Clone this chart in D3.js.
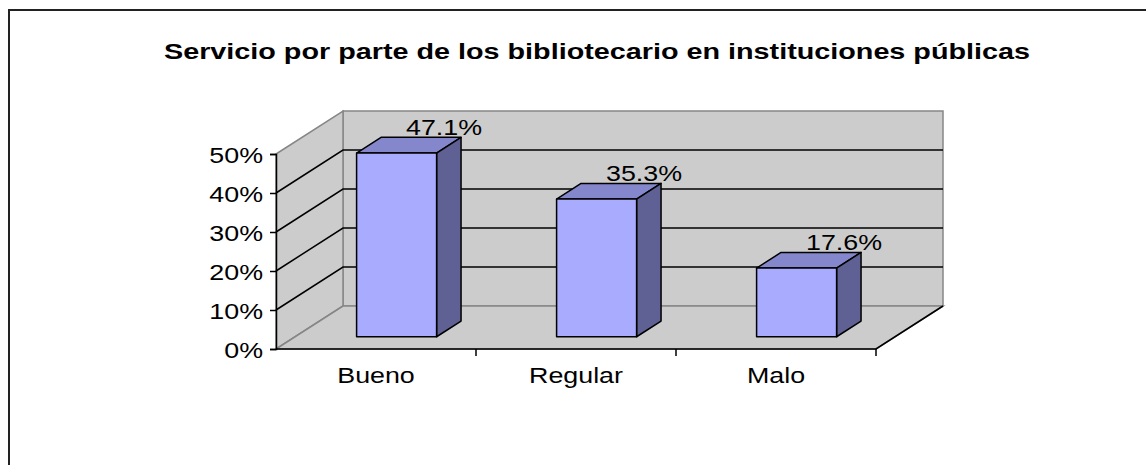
<!DOCTYPE html>
<html>
<head>
<meta charset="utf-8">
<script src="https://cdn.jsdelivr.net/npm/d3@7"></script>
<style>
  body { margin: 0; background: white; }
  svg { display: block; }
</style>
</head>
<body>
<div id="chart"></div>
<script>
const categories = ["Bueno", "Regular", "Malo"];
const values = [47.1, 35.3, 17.6];
const yTicks = [0, 10, 20, 30, 40, 50];
const title = "Servicio por parte de los bibliotecario en instituciones públicas";

const width = 1146;
const height = 465;
const colors = {
    wall: "#cccccc",
    wallEdge: "#868686",
    front: "#a9abff",
    top: "#8587cc",
    side: "#5f6093",
    text: "#000"
};
const font = "'Liberation Sans', Arial, sans-serif";

const svg = d3.select("#chart").append("svg")
    .attr("width", width).attr("height", height)
    .style("background", "white")
    .style("font-family", font);

// marco (solo arriba e izquierda visibles)
svg.append("path")
    .attr("d", `M9,${height} V10 H${width}`)
    .attr("fill", "none").attr("stroke", "#222").attr("stroke-width", 2);

svg.append("text")
    .attr("x", 597).attr("y", 59)
    .attr("text-anchor", "middle")
    .attr("textLength", 866).attr("lengthAdjust", "spacingAndGlyphs")
    .style("font-size", "22px").style("font-weight", "bold")
    .text(title);

// escalas del plano frontal
const x = d3.scaleBand().domain(categories).range([276, 876]);
const y = d3.scaleLinear().domain([0, 50]).range([349, 154]);

// profundidad 3D: z=0 frente, z=1 fondo
const depthX = 67, depthY = -43;
const proj = (px, py, z) => [px + depthX * z, py + depthY * z];
const poly = pts => "M" + pts.map(p => p.join(",")).join("L") + "Z";

const [x0, x1] = x.range();
const yMin = y(0), yMax = y(50);

// pared del fondo, lateral y piso
svg.append("path")
    .attr("d", poly([proj(x0, yMin, 1), proj(x1, yMin, 1), proj(x1, yMax, 1), proj(x0, yMax, 1)]))
    .attr("fill", colors.wall).attr("stroke", colors.wallEdge).attr("stroke-width", 1.5);
svg.append("path")
    .attr("d", poly([proj(x0, yMin, 0), proj(x0, yMax, 0), proj(x0, yMax, 1), proj(x0, yMin, 1)]))
    .attr("fill", colors.wall).attr("stroke", colors.wallEdge).attr("stroke-width", 1.5);
svg.append("path")
    .attr("d", poly([proj(x0, yMin, 0), proj(x1, yMin, 0), proj(x1, yMin, 1), proj(x0, yMin, 1)]))
    .attr("fill", colors.wall).attr("stroke", colors.wallEdge).attr("stroke-width", 1.5);

// líneas de división
const grid = yTicks.filter(t => t > 0 && t < 50);
svg.append("g").selectAll("path")
    .data(grid)
    .join("path")
    .attr("d", t => "M" + proj(x0, y(t), 0).join(",") + "L" + proj(x0, y(t), 1).join(",") + "L" + proj(x1, y(t), 1).join(","))
    .attr("fill", "none").attr("stroke", "#000").attr("stroke-width", 1.5);

// bordes del piso en negro
svg.append("path")
    .attr("d", "M" + [x0, yMin].join(",") + "L" + [x1, yMin].join(",") + "L" + proj(x1, yMin, 1).join(","))
    .attr("fill", "none").attr("stroke", "#000").attr("stroke-width", 1.5);

// barras
const z0 = 0.285, z1 = 0.65;
const barW = x.bandwidth() * 0.4;
const bars = svg.append("g").selectAll("g")
    .data(categories.map((c, i) => ({ c, v: values[i] })))
    .join("g");

const bx = d => x(d.c) + x.bandwidth() / 2 - barW / 2 + 1.5;

bars.append("path")
    .attr("d", d => poly([proj(bx(d), y(d.v), z0), proj(bx(d) + barW, y(d.v), z0), proj(bx(d) + barW, y(d.v), z1), proj(bx(d), y(d.v), z1)]))
    .attr("fill", colors.top).attr("stroke", "#000").attr("stroke-width", 1.5).attr("stroke-linejoin", "round");
bars.append("path")
    .attr("d", d => poly([proj(bx(d) + barW, yMin, z0), proj(bx(d) + barW, y(d.v), z0), proj(bx(d) + barW, y(d.v), z1), proj(bx(d) + barW, yMin, z1)]))
    .attr("fill", colors.side).attr("stroke", "#000").attr("stroke-width", 1.5).attr("stroke-linejoin", "round");
bars.append("path")
    .attr("d", d => poly([proj(bx(d), yMin, z0), proj(bx(d) + barW, yMin, z0), proj(bx(d) + barW, y(d.v), z0), proj(bx(d), y(d.v), z0)]))
    .attr("fill", colors.front).attr("stroke", "#000").attr("stroke-width", 1.5).attr("stroke-linejoin", "round");

// eje Y
const yAxis = svg.append("g")
    .attr("transform", `translate(${x0},0)`)
    .call(d3.axisLeft(y).tickValues(yTicks).tickSize(6).tickFormat(d => d + "%"));
yAxis.select(".domain").attr("stroke", "#000").attr("stroke-width", 1.5);
yAxis.selectAll(".tick line").attr("stroke", "#000").attr("stroke-width", 1.5);
yAxis.selectAll(".tick text").remove();
yAxis.selectAll(".tick").append("text")
    .attr("transform", "translate(-13,8) scale(1.22,1)")
    .attr("text-anchor", "end")
    .attr("fill", colors.text)
    .style("font-size", "22px").style("font-family", font)
    .text(d => d + "%");

// eje X
svg.append("g").selectAll("line")
    .data(x.domain().slice(1).map(c => x(c)).concat([x1]))
    .join("line")
    .attr("x1", d => d).attr("x2", d => d)
    .attr("y1", yMin).attr("y2", yMin + 7)
    .attr("stroke", "#000").attr("stroke-width", 1.5);

svg.append("g").selectAll("text")
    .data(categories)
    .join("text")
    .attr("transform", c => `translate(${x(c) + x.bandwidth() / 2},383) scale(1.22,1)`)
    .attr("text-anchor", "middle")
    .style("font-size", "22px")
    .text(c => c);

// etiquetas de valor
bars.append("text")
    .attr("transform", d => {
        const p = proj(bx(d) + barW, y(d.v), z1);
        return `translate(${p[0] - 17},${p[1] - 2}) scale(1.22,1)`;
    })
    .attr("text-anchor", "middle")
    .style("font-size", "22px")
    .text(d => d.v.toFixed(1) + "%");
</script>
</body>
</html>
